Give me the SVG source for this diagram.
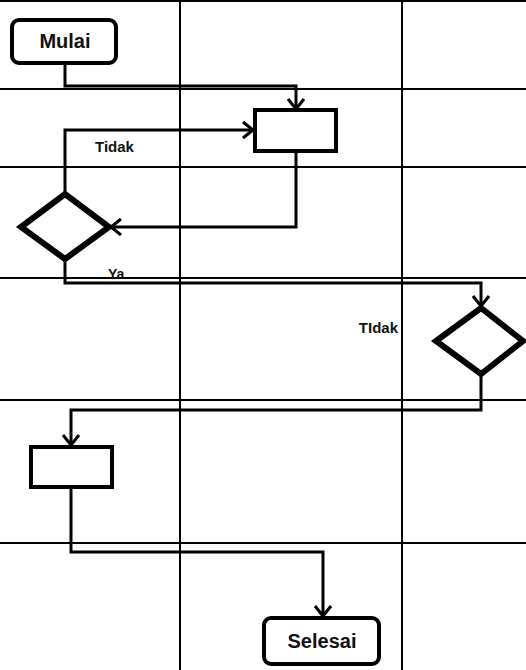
<svg xmlns="http://www.w3.org/2000/svg" width="526" height="670" viewBox="0 0 526 670">
<style>
.grid{stroke:#000;stroke-width:2;fill:none}
.conn{stroke:#000;stroke-width:3;fill:none}
.term{fill:#fff;stroke:#000;stroke-width:4}
.proc{fill:#fff;stroke:#000;stroke-width:4}
.dec{fill:#fff;stroke:#000;stroke-width:6;stroke-linejoin:miter}
.lbl{font-family:"Liberation Sans",Arial,sans-serif;font-weight:bold;fill:#111}
</style>
<defs>
<marker id="arr" markerUnits="userSpaceOnUse" markerWidth="24" markerHeight="24" refX="12" refY="12" orient="auto" overflow="visible">
<path d="M2,4 L12,12 L2,20" fill="none" stroke="#000" stroke-width="3"/>
</marker>
</defs>
<rect width="526" height="670" fill="#fff"/>
<g id="grid">
<line class="grid" x1="0" y1="1" x2="526" y2="1"/>
<line class="grid" x1="0" y1="89" x2="526" y2="89"/>
<line class="grid" x1="0" y1="167" x2="526" y2="167"/>
<line class="grid" x1="0" y1="278" x2="526" y2="278"/>
<line class="grid" x1="0" y1="400" x2="526" y2="400"/>
<line class="grid" x1="0" y1="543" x2="526" y2="543"/>
<line class="grid" x1="180" y1="0" x2="180" y2="670"/>
<line class="grid" x1="402" y1="0" x2="402" y2="670"/>
</g>
<g id="connectors">
<path class="conn" d="M65,63 V86 H296 V109" marker-end="url(#arr)"/>
<path class="conn" d="M65,193 V130 H253" marker-end="url(#arr)"/>
<path class="conn" d="M296,152 V227 H111" marker-end="url(#arr)"/>
<path class="conn" d="M65,260 V283 H481 V306" marker-end="url(#arr)"/>
<path class="conn" d="M481,375 V410 H71 V445" marker-end="url(#arr)"/>
<path class="conn" d="M71,488 V552 H323 V616" marker-end="url(#arr)"/>
<text class="lbl" x="95" y="152" font-size="15">Tidak</text>
<text class="lbl" x="108" y="279" font-size="14">Ya</text>
<text class="lbl" x="398" y="333" font-size="15" text-anchor="end">TIdak</text>
</g>
<g id="mulai">
<rect class="term" x="12" y="20" width="104" height="43" rx="7"/>
<text class="lbl" x="65" y="48" font-size="20" text-anchor="middle">Mulai</text>
</g>
<g id="process1">
<rect class="proc" x="255" y="110" width="81" height="41"/>
</g>
<g id="decision1">
<polygon class="dec" points="21,227 65,194 109,227 65,259"/>
</g>
<g id="decision2">
<polygon class="dec" points="436,341 481,308 523,341 481,374"/>
</g>
<g id="process2">
<rect class="proc" x="31" y="447" width="81" height="40"/>
</g>
<g id="selesai">
<rect class="term" x="264" y="618" width="115" height="46" rx="7"/>
<text class="lbl" x="322" y="648" font-size="20" text-anchor="middle">Selesai</text>
</g>
</svg>
